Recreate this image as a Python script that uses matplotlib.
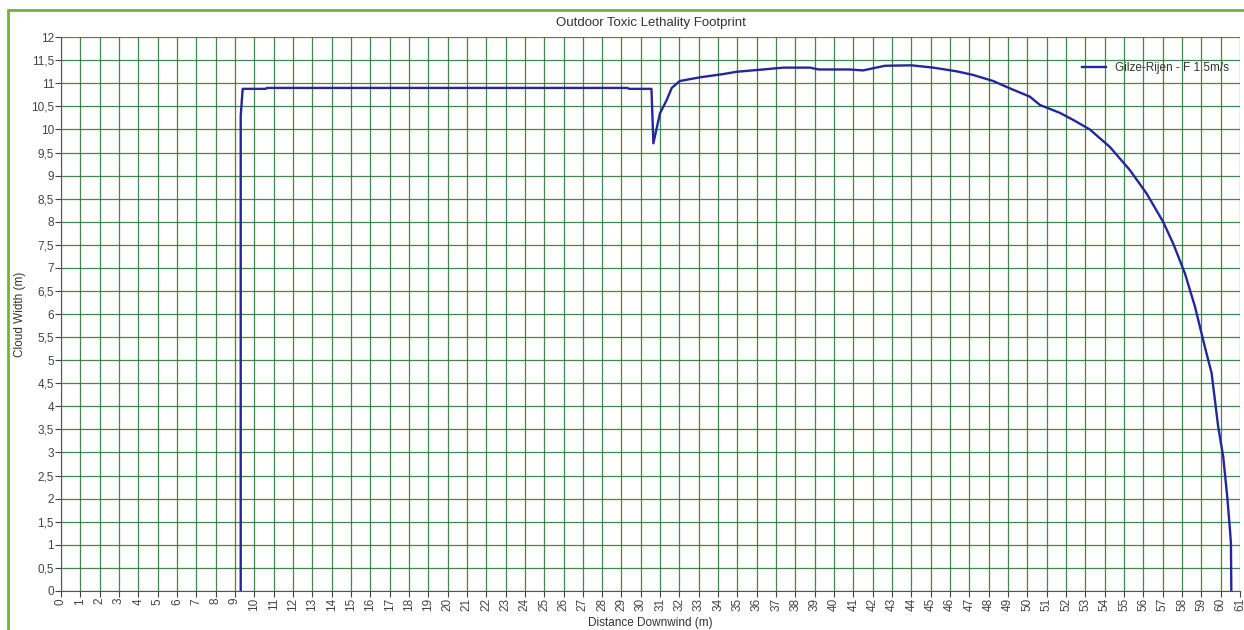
import matplotlib.pyplot as plt
from matplotlib.patches import Rectangle
from matplotlib.ticker import FuncFormatter, MultipleLocator

plt.rcParams['font.family'] = ['Liberation Sans', 'DejaVu Sans']

# distance downwind (m) and cloud width (m)
distance = [9.3, 9.3, 9.32, 9.4, 10.6, 10.65, 29.3, 29.4, 30.55, 30.65, 30.99,
            31.33, 31.6, 32.02, 33.06, 34.26, 34.95, 36.33, 37.37, 38.75,
            39.2, 40.8, 41.5, 42.63, 44.0, 45.13, 46.34, 47.2, 48.23, 49.1,
            50.13, 50.65, 51.68, 52.4, 53.23, 54.27, 55.3, 56.17, 57.02,
            57.54, 58.15, 58.67, 59.18, 59.53, 59.87, 60.13, 60.34, 60.48,
            60.53, 60.55]
width = [0, 10.3, 10.4, 10.88, 10.88, 10.9, 10.9, 10.88, 10.88, 9.7, 10.35,
         10.63, 10.9, 11.05, 11.13, 11.2, 11.25, 11.3, 11.34, 11.34,
         11.3, 11.3, 11.28, 11.38, 11.39, 11.34, 11.26, 11.18, 11.05, 10.89,
         10.71, 10.53, 10.36, 10.2, 10.0, 9.62, 9.12, 8.61, 8.0,
         7.53, 6.88, 6.16, 5.29, 4.72, 3.56, 2.91, 2.04, 1.32,
         1.03, 0]
series_name = 'Gilze-Rijen - F 1.5m/s'

fig = plt.figure(figsize=(12.44, 6.3), dpi=100)
ax = fig.add_axes([0.049, 0.062, 0.9478, 0.879])

# green frame round the whole picture
fig.patches.append(Rectangle((8 / 1244, -0.1), 1.2, 1 - 10 / 630 + 0.1,
                             transform=fig.transFigure, fill=False,
                             edgecolor='#7aae3a', linewidth=2, zorder=0))

ax.plot(distance, width, color='#23279a', linewidth=1.7, label=series_name, zorder=3)

ax.set_xlim(0, 61)
ax.set_ylim(0, 12)
ax.xaxis.set_major_locator(MultipleLocator(1))
ax.yaxis.set_major_locator(MultipleLocator(0.5))
ax.yaxis.set_major_formatter(FuncFormatter(lambda v, p: ('%g' % v).replace('.', ',')))
ax.grid(True, color='#2f7a35', linewidth=0.9, alpha=0.9)
ax.set_axisbelow(True)

for s in ['top', 'right']:
    ax.spines[s].set_visible(False)
for s in ['left', 'bottom']:
    ax.spines[s].set_color('#555555')

ax.tick_params(axis='both', colors='#444444', labelsize=8.5, length=4, width=0.8)
ax.tick_params(axis='x', labelrotation=90, pad=1)
ax.tick_params(axis='y', pad=1)

ax.set_title('Outdoor Toxic Lethality Footprint', fontsize=9.5, color='#333333', pad=8)
ax.set_xlabel('Distance Downwind (m)', fontsize=8.5, color='#333333', labelpad=4)
ax.set_ylabel('Cloud Width (m)', fontsize=8.5, color='#333333')
ax.yaxis.set_label_coords(-0.03, 0.5)

leg = ax.legend(loc='upper right', bbox_to_anchor=(1.0, 0.975), frameon=False,
                fontsize=8.5, handlelength=2.0, labelcolor='#333333')

fig.savefig('out.png', dpi=100)
